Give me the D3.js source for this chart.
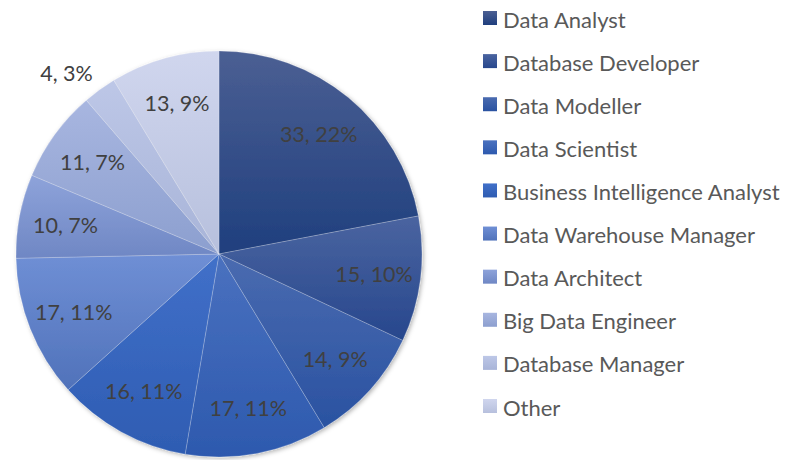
<!DOCTYPE html>
<html>
<head>
<meta charset="utf-8">
<script src="https://cdn.jsdelivr.net/npm/d3@7"></script>
<style>
  body { margin: 0; background: #fff; }
  svg text { font-family: Lato, 'Open Sans', sans-serif; }
</style>
</head>
<body>
<div id="chart"></div>
<script>
const roles = [
  'Data Analyst',
  'Database Developer',
  'Data Modeller',
  'Data Scientist',
  'Business Intelligence Analyst',
  'Data Warehouse Manager',
  'Data Architect',
  'Big Data Engineer',
  'Database Manager',
  'Other'
];
const counts = [33, 15, 14, 17, 16, 17, 10, 11, 4, 13];

// gradient colours per slice: top (lighter) and bottom (base)
const topColors = ['#4b5f93', '#4a64a0', '#4a6bb0', '#4a71bf', '#4170c9', '#6f8fd5', '#8ea3da', '#a8b6e0', '#bdc7e7', '#d0d6ee'];
const bottomColors = ['#1f3f7e', '#27478d', '#2a52a1', '#2d59ae', '#2e5cb2', '#5072ba', '#6f87c4', '#8c9fcf', '#a8b4d8', '#b7c0dd'];

const width = 786;
const height = 460;
const cx = 219;
const cy = 254;
const radius = 203;

const svg = d3
  .select('#chart')
  .append('svg')
  .attr('width', width)
  .attr('height', height);

const defs = svg.append('defs');

roles.forEach((r, i) => {
  const g = defs
    .append('linearGradient')
    .attr('id', 'grad' + i)
    .attr('x1', 0)
    .attr('y1', 0)
    .attr('x2', 0)
    .attr('y2', 1);
  g.append('stop').attr('offset', '0%').attr('stop-color', topColors[i]);
  g.append('stop').attr('offset', '100%').attr('stop-color', bottomColors[i]);
});

const shadow = defs
  .append('filter')
  .attr('id', 'shadow')
  .attr('x', '-10%')
  .attr('y', '-10%')
  .attr('width', '120%')
  .attr('height', '120%');
shadow
  .append('feDropShadow')
  .attr('dx', 1.5)
  .attr('dy', 1.5)
  .attr('stdDeviation', 2)
  .attr('flood-color', '#000')
  .attr('flood-opacity', 0.3);

const total = d3.sum(counts);
const data = roles.map((r, i) => ({ role: r, value: counts[i], index: i }));

const pie = d3.pie().sort(null).value((d) => d.value);
const arcs = pie(data);

const arc = d3.arc().innerRadius(0).outerRadius(radius);
const labelArc = d3.arc().innerRadius(radius * 0.77).outerRadius(radius * 0.77);
const outsideArc = d3.arc().innerRadius(radius * 1.1).outerRadius(radius * 1.1);

const isSmall = (d) => d.data.value / total < 0.05;

const pieGroup = svg
  .append('g')
  .attr('transform', `translate(${cx},${cy})`);

pieGroup
  .append('g')
  .attr('filter', 'url(#shadow)')
  .selectAll('path')
  .data(arcs)
  .enter()
  .append('path')
  .attr('d', arc)
  .attr('fill', (d) => `url(#grad${d.data.index})`)
  .attr('stroke', 'rgba(255,255,255,0.35)')
  .attr('stroke-width', 0.6);

pieGroup
  .selectAll('text.label')
  .data(arcs)
  .enter()
  .append('text')
  .attr('class', 'label')
  .attr('x', (d) => (isSmall(d) ? outsideArc.centroid(d)[0] + 5 : labelArc.centroid(d)[0]))
  .attr('y', (d) => (isSmall(d) ? outsideArc.centroid(d)[1] : labelArc.centroid(d)[1]))
  .attr('text-anchor', (d) => (isSmall(d) ? 'end' : 'middle'))
  .attr('dominant-baseline', 'central')
  .attr('fill', '#404040')
  .attr('font-size', 21.5)
  .text((d) => `${d.data.value}, ${Math.round((d.data.value / total) * 100)}%`);

// legend
const legendY = d3.scalePoint().domain(roles).range([18, 406]);

const legend = svg
  .append('g')
  .selectAll('g')
  .data(data)
  .enter()
  .append('g')
  .attr('transform', (d) => `translate(483,${legendY(d.role)})`);

legend
  .append('rect')
  .attr('x', 0)
  .attr('y', -7)
  .attr('width', 14)
  .attr('height', 14)
  .attr('fill', (d) => `url(#grad${d.index})`);

legend
  .append('text')
  .attr('x', 20)
  .attr('y', 1)
  .attr('dominant-baseline', 'central')
  .attr('fill', '#595959')
  .attr('font-size', 22)
  .text((d) => d.role);
</script>
</body>
</html>
